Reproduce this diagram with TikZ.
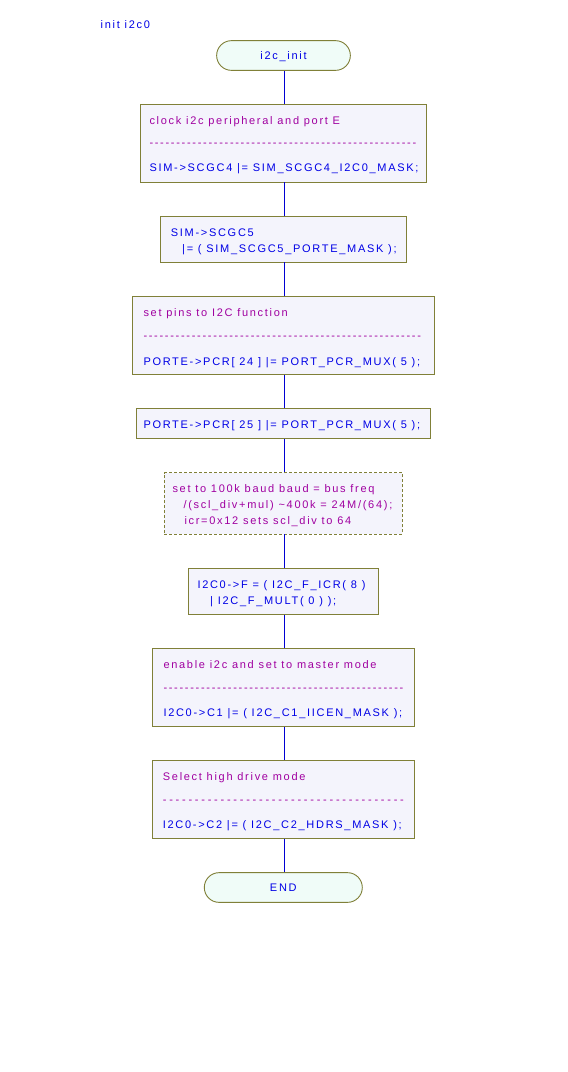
\documentclass[tikz,border=0pt]{standalone}
\usepackage{fontspec}
\newfontfamily\diagfont[LetterSpace=15.5]{Liberation Sans}
\newfontfamily\widedash[LetterSpace=25]{Liberation Sans}
\definecolor{olivebd}{RGB}{128,128,56}
\definecolor{boxfill}{RGB}{244,244,252}
\definecolor{termfill}{RGB}{240,252,248}
\definecolor{codeblue}{RGB}{0,0,230}
\definecolor{cmtpurple}{RGB}{160,0,160}
\definecolor{flowblue}{RGB}{0,0,210}
\begin{document}
\begin{tikzpicture}[x=1pt,y=-1pt,
  box/.style={draw=olivebd, fill=boxfill, line width=0.9pt, inner sep=0pt, rectangle},
  dbox/.style={box, dash pattern=on 3pt off 2pt},
  term/.style={draw=olivebd, fill=termfill, line width=0.9pt, inner sep=0pt, rectangle, rounded corners=14.8pt},
  txt/.style={anchor=base west, inner sep=0pt, font=\fontsize{11}{13}\diagfont, text=codeblue},
  cmt/.style={txt, text=cmtpurple},
  ctxt/.style={anchor=base, inner sep=0pt, font=\fontsize{11}{13}\diagfont, text=codeblue},
  flow/.style={draw=flowblue, line width=0.9pt}]
\useasboundingbox[fill=white] (0,0) rectangle (568,1072);

\node[txt] (title) at (100.5,28) {init i2c0};

% shapes
\node[term, minimum width=133.7pt, minimum height=29.7pt] (start) at (283.5,55.5) {};
\node[box, minimum width=286pt, minimum height=78pt] (b1) at (283,143) {};
\node[box, minimum width=246pt, minimum height=46pt] (b2) at (283.3,239) {};
\node[box, minimum width=302pt, minimum height=77.6pt] (b3) at (283.3,335.5) {};
\node[box, minimum width=294.3pt, minimum height=30.3pt] (b4) at (283.5,423.5) {};
\node[dbox, minimum width=238.3pt, minimum height=61.3pt] (b5) at (283.2,503.3) {};
\node[box, minimum width=190.3pt, minimum height=46pt] (b6) at (283.5,591.3) {};
\node[box, minimum width=262pt, minimum height=78pt] (b7) at (283.3,687.3) {};
\node[box, minimum width=262pt, minimum height=77.6pt] (b8) at (283.3,799.5) {};
\node[term, minimum width=158pt, minimum height=29.7pt] (end) at (283.3,887.5) {};

% connectors
\draw[flow] (start.south -| 284,0) -- (b1.north -| 284,0);
\draw[flow] (b1.south -| 284,0) -- (b2.north -| 284,0);
\draw[flow] (b2.south -| 284,0) -- (b3.north -| 284,0);
\draw[flow] (b3.south -| 284,0) -- (b4.north -| 284,0);
\draw[flow] (b4.south -| 284,0) -- (b5.north -| 284,0);
\draw[flow] (b5.south -| 284,0) -- (b6.north -| 284,0);
\draw[flow] (b6.south -| 284,0) -- (b7.north -| 284,0);
\draw[flow] (b7.south -| 284,0) -- (b8.north -| 284,0);
\draw[flow] (b8.south -| 284,0) -- (end.north -| 284,0);

% texts
\node[ctxt] (tstart) at (283.5,59.5) {i2c\_init};

\node[cmt] (t1a) at (149.3,124) {clock i2c peripheral and port E};
\node[cmt] (t1b) at (149.3,146.5) {--------------------------------------------------};
\node[txt] (t1c) at (149.3,171) {SIM->SCGC4 |= SIM\_SCGC4\_I2C0\_MASK;};

\node[txt] (t2a) at (170.7,236) {SIM->SCGC5};
\node[txt] (t2b) at (182,252) {|= ( SIM\_SCGC5\_PORTE\_MASK );};

\node[cmt] (t3a) at (143.3,316) {set pins to I2C function};
\node[cmt] (t3b) at (143.3,339.5) {----------------------------------------------------};
\node[txt] (t3c) at (143.3,365) {PORTE->PCR[ 24 ] |= PORT\_PCR\_MUX( 5 );};

\node[txt] (t4a) at (143.3,428) {PORTE->PCR[ 25 ] |= PORT\_PCR\_MUX( 5 );};

\node[cmt] (t5a) at (172.3,492.5) {set to 100k baud baud = bus freq};
\node[cmt] (t5b) at (183.3,508.5) {/(scl\_div+mul) \textasciitilde400k = 24M/(64);};
\node[cmt] (t5c) at (184.3,524.5) {icr=0x12 sets scl\_div to 64};

\node[txt] (t6a) at (197.3,588.3) {I2C0->F = ( I2C\_F\_ICR( 8 )};
\node[txt] (t6b) at (210,604) {| I2C\_F\_MULT( 0 ) );};

\node[cmt] (t7a) at (163.3,668.5) {enable i2c and set to master mode};
\node[cmt] (t7b) at (163.3,691.8) {---------------------------------------------};
\node[txt] (t7c) at (163.3,716.5) {I2C0->C1 |= ( I2C\_C1\_IICEN\_MASK );};

\node[cmt] (t8a) at (162.7,780) {Select high drive mode};
\node[cmt, font=\fontsize{11}{13}\widedash] (t8b) at (162.7,803.5) {--------------------------------------};
\node[txt] (t8c) at (162.7,828) {I2C0->C2 |= ( I2C\_C2\_HDRS\_MASK );};

\node[ctxt] (tend) at (283.3,891.5) {END};
\end{tikzpicture}
\end{document}
